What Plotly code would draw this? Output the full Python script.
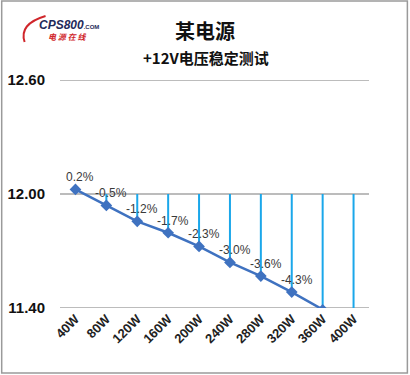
import plotly.graph_objects as go

categories = ["40W", "80W", "120W", "160W", "200W", "240W", "280W", "320W", "360W", "400W"]
voltage = [12.024, 11.94, 11.856, 11.796, 11.724, 11.64, 11.568, 11.484, 11.39, 11.30]
pct_labels = ["0.2%", "-0.5%", "-1.2%", "-1.7%", "-2.3%", "-3.0%", "-3.6%", "-4.3%", "", ""]
reference = 12.00
y_ticks = [11.40, 12.00, 12.60]
title = "某电源"
subtitle = "+12V电压稳定测试"

# drop lines from reference to value
dx, dy = [], []
for c, v in zip(categories, voltage):
    dx += [c, c, None]
    dy += [reference, v, None]

fig = go.Figure()
fig.add_trace(go.Scatter(x=dx, y=dy, mode="lines",
                         line=dict(color="#1aa7ea", width=2), hoverinfo="skip",
                         showlegend=False))
fig.add_trace(go.Scatter(x=categories, y=voltage, mode="lines+markers",
                         line=dict(color="#3f72c0", width=2.5),
                         marker=dict(symbol="diamond", size=9, color="#3f72c0"),
                         showlegend=False))

fig.update_layout(
    width=410, height=375,
    margin=dict(l=59.5, r=40.5, t=80, b=67, autoexpand=False),
    paper_bgcolor="white", plot_bgcolor="white",
    font=dict(family="Liberation Sans, Arial", color="#111111"),
    xaxis=dict(type="category", categoryorder="array", categoryarray=categories,
               range=[-0.5, 9.5], showgrid=False, showline=False, ticks="",
               tickangle=-45, tickfont=dict(family="Liberation Sans, Arial", size=13, color="#222222"),
               tickprefix="<b>", ticksuffix="</b>", zeroline=False, automargin=False),
    yaxis=dict(range=[11.40, 12.60], tickvals=y_ticks,
               ticktext=["<b>%.2f</b>" % t for t in y_ticks],
               tickfont=dict(family="Liberation Sans, Arial", size=15, color="#111111"),
               showgrid=False, zeroline=False, automargin=False,
               showline=False, ticks="", ticklabelstandoff=14),
)

# gridlines drawn at the tick values
for t in y_ticks:
    fig.add_shape(type="line", xref="paper", yref="y", x0=0, x1=1, y0=t, y1=t,
                  line=dict(color="#a6a6a6", width=1.5), layer="below")

plot_w, plot_h = 310, 228
def px_to_paper(x, y):
    return (x - 59.5) / plot_w, 1 - (y - 80) / plot_h

ann = []
# data labels
for c, v, lab in zip(categories, voltage, pct_labels):
    if lab:
        ann.append(dict(text=lab, x=c, y=v, xref="x", yref="y", showarrow=False,
                        xanchor="center", yanchor="middle", xshift=5, yshift=12,
                        font=dict(family="Liberation Sans, Arial", size=12, color="#3a3a3a")))
tx, ty = px_to_paper(205, 30)
ann.append(dict(text="<b>" + title + "</b>", x=tx, y=ty, xref="paper", yref="paper",
                xanchor="center", yanchor="middle", showarrow=False,
                font=dict(family="Noto Sans CJK SC", size=20, color="#111111")))
sx, sy = px_to_paper(206, 58)
ann.append(dict(text="<b>" + subtitle + "</b>", x=sx, y=sy, xref="paper", yref="paper",
                xanchor="center", yanchor="middle", showarrow=False,
                font=dict(family="Noto Sans CJK SC", size=15, color="#111111")))
lx, ly = px_to_paper(36, 25)
ann.append(dict(text="<b><i>CPS800</i></b><span style='font-size:6px'><b>.COM</b></span>", x=lx, y=ly,
                xref="paper", yref="paper", xanchor="left", yanchor="middle", showarrow=False,
                font=dict(family="Liberation Sans, Arial", size=12, color="#1f2a5a")))
lx2, ly2 = px_to_paper(45, 37)
ann.append(dict(text="<b><i>电 源 在 线</i></b>", x=lx2, y=ly2,
                xref="paper", yref="paper", xanchor="left", yanchor="middle", showarrow=False,
                font=dict(family="Noto Sans CJK SC", size=8, color="#d0262b")))
fig.layout.annotations = ann

bx0, by0 = px_to_paper(1, 1)
bx1, by1 = px_to_paper(408, 373)
fig.add_shape(type="rect", xref="paper", yref="paper", x0=bx0, y0=by1, x1=bx1, y1=by0,
              line=dict(color="#9a9a9a", width=1.5))
fig.add_shape(type="path", xref="paper", yref="paper",
              path="M %f,%f Q %f,%f %f,%f" % (*px_to_paper(45, 16), *px_to_paper(18, 24), *px_to_paper(24, 42)),
              line=dict(color="#d0262b", width=2))

fig.write_html("out.html", config={"displayModeBar": False},
               post_script="document.body.style.margin='0';document.body.style.overflow='hidden';")
